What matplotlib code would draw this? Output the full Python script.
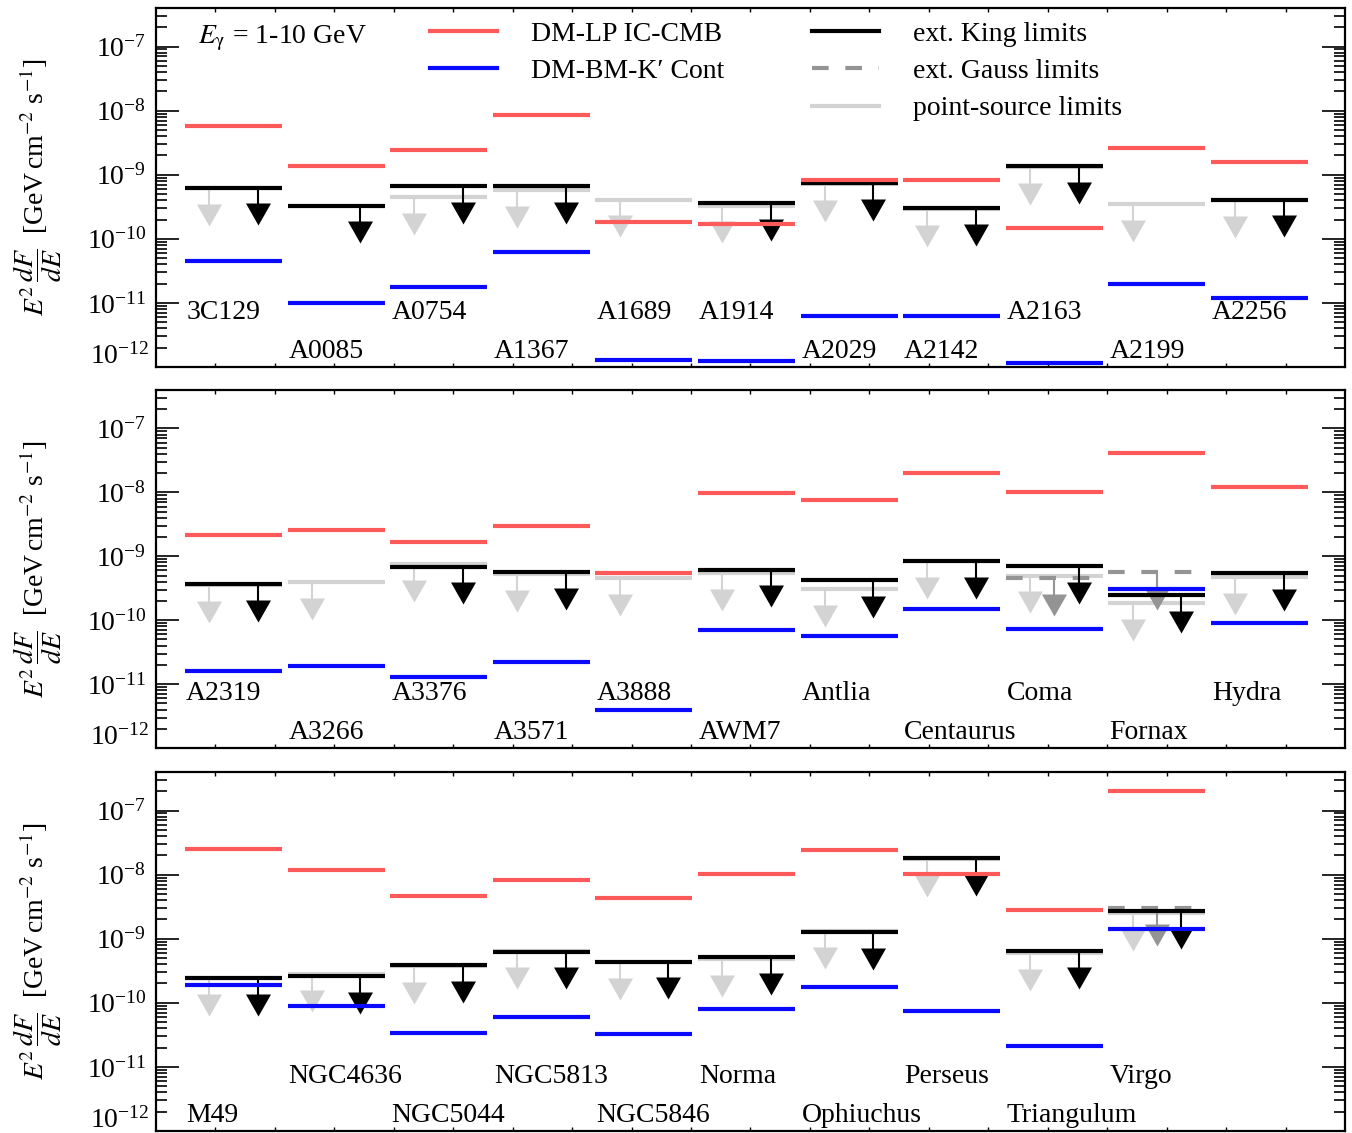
import numpy as np
import matplotlib.pyplot as plt
from matplotlib.lines import Line2D
from matplotlib.ticker import FixedLocator, LogLocator, NullFormatter

plt.rcParams['font.family'] = ['Liberation Serif', 'DejaVu Serif']
plt.rcParams['mathtext.fontset'] = 'stix'
plt.rcParams['font.size'] = 20

nan = np.nan

# panel 1
names1 = ['3C129', 'A0085', 'A0754', 'A1367', 'A1689', 'A1914', 'A2029', 'A2142', 'A2163', 'A2199', 'A2256']
red1 = [5.8e-9, 1.35e-9, 2.4e-9, 8.4e-9, 1.8e-10, 1.7e-10, 8.4e-10, 8.3e-10, 1.5e-10, 2.65e-9, 1.6e-9]
blue1 = [4.5e-11, 9.8e-12, 1.8e-11, 6.3e-11, 1.3e-12, 1.25e-12, 6.2e-12, 6.2e-12, 1.15e-12, 1.95e-11, 1.2e-11]
king1 = [6.3e-10, 3.3e-10, 6.6e-10, 6.7e-10, nan, 3.6e-10, 7.3e-10, 3.0e-10, 1.35e-9, nan, 4.1e-10]
gauss1 = [nan] * 11
ps1 = [6.2e-10, nan, 4.5e-10, 5.8e-10, 4.1e-10, 3.3e-10, 7.1e-10, 2.9e-10, 1.3e-9, 3.5e-10, 4.0e-10]
row1 = [1, 0, 1, 0, 1, 1, 0, 0, 1, 0, 1]

# panel 2
names2 = ['A2319', 'A3266', 'A3376', 'A3571', 'A3888', 'AWM7', 'Antlia', 'Centaurus', 'Coma', 'Fornax', 'Hydra']
red2 = [2.13e-9, 2.6e-9, 1.67e-9, 3.0e-9, 5.4e-10, 9.8e-9, 7.5e-9, 2.0e-8, 1.0e-8, 4.2e-8, 1.2e-8]
blue2 = [1.6e-11, 1.9e-11, 1.3e-11, 2.2e-11, 4.0e-12, 7.1e-11, 5.7e-11, 1.47e-10, 7.4e-11, 3.1e-10, 8.9e-11]
king2 = [3.7e-10, nan, 6.9e-10, 5.7e-10, nan, 6.2e-10, 4.2e-10, 8.5e-10, 7.1e-10, 2.5e-10, 5.4e-10]
gauss2 = [nan, nan, nan, nan, nan, nan, nan, nan, 4.6e-10, 5.7e-10, nan]
ps2 = [3.5e-10, 3.9e-10, 7.5e-10, 5.3e-10, 4.6e-10, 5.4e-10, 3.1e-10, 8.3e-10, 5.0e-10, 1.85e-10, 4.7e-10]
row2 = [1, 0, 1, 0, 1, 0, 1, 0, 1, 0, 1]

# panel 3
names3 = ['M49', 'NGC4636', 'NGC5044', 'NGC5813', 'NGC5846', 'Norma', 'Ophiuchus', 'Perseus', 'Triangulum', 'Virgo']
red3 = [2.55e-8, 1.18e-8, 4.7e-9, 8.1e-9, 4.3e-9, 1.04e-8, 2.4e-8, 1.02e-8, 2.8e-9, 2.0e-7]
blue3 = [1.87e-10, 8.8e-11, 3.4e-11, 6.0e-11, 3.2e-11, 7.9e-11, 1.74e-10, 7.5e-11, 2.1e-11, 1.41e-9]
king3 = [2.46e-10, 2.64e-10, 3.9e-10, 6.3e-10, 4.4e-10, 5.2e-10, 1.27e-9, 1.82e-8, 6.4e-10, 2.74e-9]
gauss3 = [nan] * 9 + [2.98e-9]
ps3 = [2.4e-10, 2.8e-10, 3.8e-10, 6.5e-10, 4.3e-10, 4.8e-10, 1.3e-9, 1.75e-8, 5.9e-10, 2.5e-9]
row3 = [0, 1, 0, 1, 0, 1, 0, 1, 0, 1]

RED = '#ff5a5a'
BLUE = '#0a0aff'
LGRAY = '#d3d3d3'
DGRAY = '#949494'

W = 0.945
XLIM = (-0.283, 11.306)
TRI = [(-1, 0.88), (1, 0.88), (0, -0.88)]


def limit(ax, x0, val, frac, color, z, dashed=False):
    if np.isnan(val):
        return
    if dashed:
        ax.plot([x0, x0 + W], [val, val], color=color, lw=3, dashes=(4, 4), zorder=z)
    else:
        ax.plot([x0, x0 + W], [val, val], color=color, lw=3, solid_capstyle='butt', zorder=z)
    xa = x0 + frac * W
    ax.plot([xa, xa], [val, val / 10**0.3], color=color, lw=1.5, zorder=z)
    ax.plot([xa], [val / 10**0.42], marker=TRI, ms=18, color=color, mec=color, mew=0, zorder=z)


def panel(ax, names, red, blue, king, gauss, ps, rows):
    for i, name in enumerate(names):
        x0 = i
        limit(ax, x0, ps[i], 0.25, LGRAY, 2)
        limit(ax, x0, gauss[i], 0.5, DGRAY, 3, dashed=True)
        limit(ax, x0, king[i], 0.75, 'black', 4)
        ax.plot([x0, x0 + W], [red[i], red[i]], color=RED, lw=3, solid_capstyle='butt', zorder=5)
        ax.plot([x0, x0 + W], [blue[i], blue[i]], color=BLUE, lw=3, solid_capstyle='butt', zorder=5)
        ax.text(x0 + 0.01, 0.152 if rows[i] else 0.042, name, fontsize=20,
                transform=ax.get_xaxis_transform(), va='center', ha='left')

    ax.set_yscale('log')
    ax.set_ylim(1e-12, 4e-7)
    ax.set_xlim(*XLIM)
    ax.yaxis.set_major_locator(FixedLocator([1e-11, 1e-10, 1e-9, 1e-8, 1e-7]))
    ax.yaxis.set_minor_locator(LogLocator(base=10, subs=np.arange(2, 10), numticks=20))
    ax.yaxis.set_minor_formatter(NullFormatter())
    ax.set_xticks(np.linspace(XLIM[0], XLIM[1], 21)[1:-1])
    ax.tick_params(axis='x', which='major', direction='in', length=3, width=1,
                   top=True, labelbottom=False)
    ax.tick_params(axis='y', which='major', direction='in', length=16.5, width=1.2,
                   left=True, right=True, labelsize=20, pad=7)
    ax.tick_params(axis='y', which='minor', direction='in', length=8, width=1.2,
                   left=True, right=True)
    for s in ax.spines.values():
        s.set_linewidth(1.6)
    ax.annotate(r'$\mathdefault{10^{-12}}$', xy=(0, 1e-12), xycoords=('axes fraction', 'data'),
                xytext=(-5, 10), textcoords='offset points', ha='right', va='center_baseline',
                fontsize=20)
    ax.set_ylabel(r'$E^2\,\dfrac{dF}{dE}$  [GeV$\,$cm$^{-2}$ s$^{-1}$]', fontsize=20)
    ax.yaxis.set_label_coords(-0.077, 0.5)


fig = plt.figure(figsize=(13.52, 11.33), dpi=100)
left, width = 0.1154, 0.8794
ax1 = fig.add_axes([left, 0.6761, width, 0.3169])
ax2 = fig.add_axes([left, 0.3398, width, 0.3160])
ax3 = fig.add_axes([left, 0.0018, width, 0.3169])

panel(ax1, names1, red1, blue1, king1, gauss1, ps1, row1)
panel(ax2, names2, red2, blue2, king2, gauss2, ps2, row2)
panel(ax3, names3, red3, blue3, king3, gauss3, ps3, row3)

ax1.text(0.0353, 0.915, '$E_{\\mathrm{\u03b3}}$ = 1-10 GeV', transform=ax1.transAxes,
         va='center', fontsize=20)

h1 = [Line2D([], [], color=RED, lw=3), Line2D([], [], color=BLUE, lw=3)]
leg1 = ax1.legend(h1, ['DM-LP IC-CMB', 'DM-BM-K\u2032 Cont'], loc='upper left',
                  bbox_to_anchor=(0.2304, 0.962), frameon=False, handlelength=2.4,
                  handletextpad=1.25, labelspacing=0.42, borderpad=0, borderaxespad=0, fontsize=20)
ax1.add_artist(leg1)
h2 = [Line2D([], [], color='black', lw=3), Line2D([], [], color=DGRAY, lw=3, dashes=(4, 4)),
      Line2D([], [], color=LGRAY, lw=3)]
ax1.legend(h2, ['ext. King limits', 'ext. Gauss limits', 'point-source limits'], loc='upper left',
           bbox_to_anchor=(0.5517, 0.962), frameon=False, handlelength=2.4,
           handletextpad=1.25, labelspacing=0.42, borderpad=0, borderaxespad=0, fontsize=20)

fig.savefig('out.png', dpi=100)
